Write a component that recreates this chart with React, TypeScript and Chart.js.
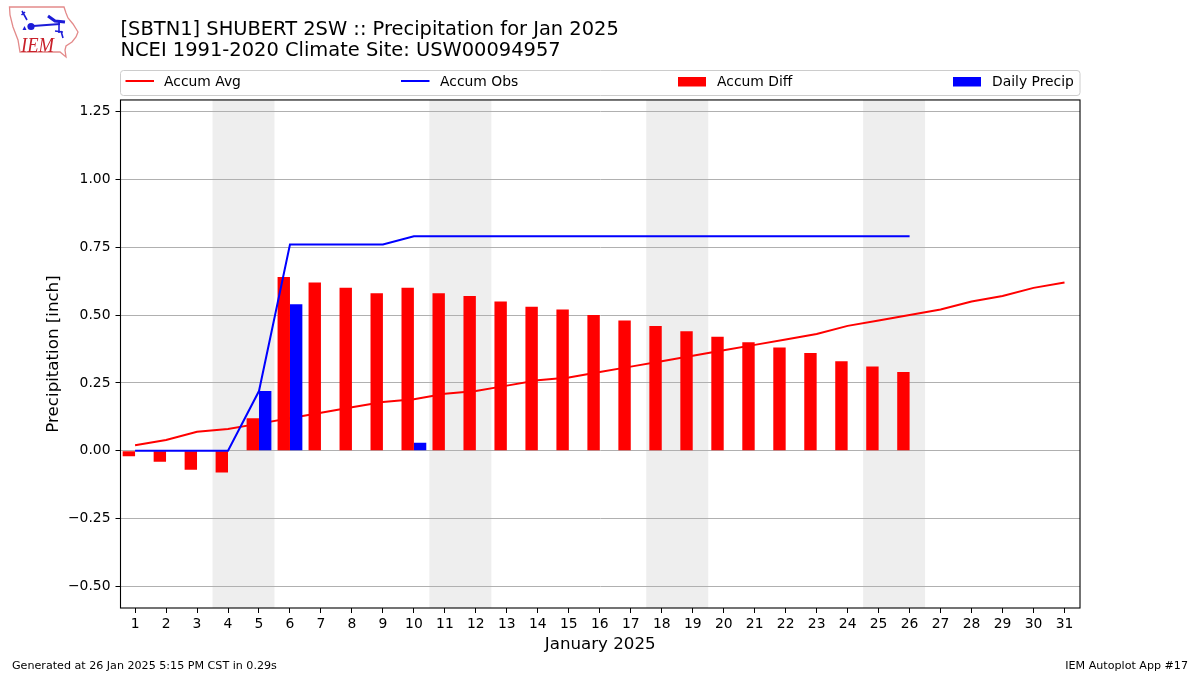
import React, { useEffect, useRef } from "react";
import { Chart, registerables } from "chart.js";

Chart.register(...registerables);

const titleLines = [
  "[SBTN1] SHUBERT 2SW :: Precipitation for Jan 2025",
  "NCEI 1991-2020 Climate Site: USW00094957",
];
const days = Array.from({ length: 31 }, (_, i) => i + 1);
const accumAvg = [0.02, 0.04, 0.07, 0.08, 0.1, 0.12, 0.14, 0.16, 0.18, 0.19, 0.21, 0.22, 0.24, 0.26, 0.27, 0.29, 0.31, 0.33, 0.35, 0.37, 0.39, 0.41, 0.43, 0.46, 0.48, 0.5, 0.52, 0.55, 0.57, 0.6, 0.62];
const accumObs = [0, 0, 0, 0, 0.22, 0.76, 0.76, 0.76, 0.76, 0.79, 0.79, 0.79, 0.79, 0.79, 0.79, 0.79, 0.79, 0.79, 0.79, 0.79, 0.79, 0.79, 0.79, 0.79, 0.79, 0.79];
const accumDiff = [-0.02, -0.04, -0.07, -0.08, 0.12, 0.64, 0.62, 0.6, 0.58, 0.6, 0.58, 0.57, 0.55, 0.53, 0.52, 0.5, 0.48, 0.46, 0.44, 0.42, 0.4, 0.38, 0.36, 0.33, 0.31, 0.29];
const dailyPrecip = [0, 0, 0, 0, 0.22, 0.54, 0, 0, 0, 0.03, 0, 0, 0, 0, 0, 0, 0, 0, 0, 0, 0, 0, 0, 0, 0, 0];
const yTicks = [-0.5, -0.25, 0, 0.25, 0.5, 0.75, 1, 1.25];
const weekendBands = [[3.5, 5.5], [10.5, 12.5], [17.5, 19.5], [24.5, 26.5]];
const footerLeft = "Generated at 26 Jan 2025 5:15 PM CST in 0.29s";
const footerRight = "IEM Autoplot App #17";

const FONT = "'DejaVu Sans'";
const toXY = (vals: number[]) => vals.map((y, i) => ({ x: days[i], y }));

const decor = {
  id: "decor",
  beforeDraw(chart: any) {
    const { ctx, chartArea: a, scales } = chart;
    ctx.save();
    ctx.fillStyle = "#eeeeee";
    for (const [s, e] of weekendBands) {
      const x0 = scales.x.getPixelForValue(s);
      const x1 = scales.x.getPixelForValue(e);
      ctx.fillRect(x0, a.top, x1 - x0, a.bottom - a.top);
    }
    ctx.restore();
  },
  afterDraw(chart: any) {
    const { ctx, chartArea: a } = chart;
    ctx.save();
    ctx.strokeStyle = "#000";
    ctx.lineWidth = 1.1;
    ctx.strokeRect(a.left, a.top, a.right - a.left, a.bottom - a.top);

    // legend
    ctx.strokeStyle = "#cccccc";
    ctx.lineWidth = 1;
    ctx.beginPath();
    ctx.roundRect(120.5, 70.5, 959.5, 25, 3);
    ctx.stroke();
    const items = [
      { i: 0, x: 125.5, tx: 164 },
      { i: 1, x: 401, tx: 440 },
      { i: 2, x: 678, tx: 717 },
      { i: 3, x: 953, tx: 992 },
    ];
    ctx.font = `13.89px ${FONT}`;
    ctx.textBaseline = "middle";
    ctx.textAlign = "left";
    for (const it of items) {
      const ds = chart.data.datasets[it.i];
      if (ds.type === "line") {
        ctx.strokeStyle = ds.borderColor;
        ctx.lineWidth = 2;
        ctx.beginPath();
        ctx.moveTo(it.x, 81);
        ctx.lineTo(it.x + 28.5, 81);
        ctx.stroke();
      } else {
        ctx.fillStyle = ds.backgroundColor;
        ctx.fillRect(it.x, 77, 28, 9.5);
      }
      ctx.fillStyle = "#000";
      ctx.fillText(ds.label, it.tx, 82);
    }

    // footer
    ctx.font = `11.11px ${FONT}`;
    ctx.fillStyle = "#000";
    ctx.textAlign = "left";
    ctx.fillText(footerLeft, 12, 666);
    ctx.textAlign = "right";
    ctx.fillText(footerRight, 1188, 666);
    ctx.restore();
  },
};

function Logo() {
  return (
    <svg width={90} height={62} style={{ position: "absolute", left: 0, top: 0 }}>
      <path
        d="M9.5 7 L64 7 L66 13 L68 18 L73 24 L78 32 L76 37 L72 42 L66 46 L65 50 L66 57 L60 52 L20 52 L18 40 L13 27 L10 15 Z"
        fill="white"
        stroke="#e38a8a"
        strokeWidth={1.3}
      />
      <g stroke="#1c1cd8" fill="none" strokeWidth={1.6}>
        <path d="M22 11 L27 20 M21.5 15 L25 12" />
        <path d="M33 26 L60 24" strokeWidth={2.2} />
        <path d="M59 22 L59 33" />
        <path d="M48 16 L55 21 L65 22" strokeWidth={3} />
        <path d="M55 31 L63 32 M61 31 L63 38" />
      </g>
      <circle cx={31} cy={26.5} r={3.6} fill="#1c1cd8" />
      <path d="M24.5 26 L26.5 30 L22.5 30 Z" fill="#1c1cd8" />
      <text x={21} y={52} fontFamily="'Liberation Serif'" fontStyle="italic" fontSize={20} fill="#c8202a" textLength={33} lengthAdjust="spacingAndGlyphs">
        IEM
      </text>
    </svg>
  );
}

export default function App() {
  const ref = useRef<HTMLCanvasElement>(null);
  useEffect(() => {
    const chart = new Chart(ref.current!, {
      type: "bar",
      data: {
        datasets: [
          { type: "line", label: "Accum Avg", data: toXY(accumAvg), borderColor: "#ff0000", borderWidth: 2, pointRadius: 0, order: 4 },
          { type: "line", label: "Accum Obs", data: toXY(accumObs), borderColor: "#0000ff", borderWidth: 2, pointRadius: 0, order: 1 },
          { type: "bar", label: "Accum Diff", data: toXY(accumDiff), backgroundColor: "#ff0000", order: 2, categoryPercentage: 0.8, barPercentage: 1 },
          { type: "bar", label: "Daily Precip", data: toXY(dailyPrecip), backgroundColor: "#0000ff", order: 3, categoryPercentage: 0.8, barPercentage: 1 },
        ] as any,
      },
      options: {
        animation: false,
        responsive: false,
        layout: { padding: { left: 0, right: 120, top: 0, bottom: 0 } },
        plugins: {
          legend: { display: false },
          tooltip: { enabled: false },
          title: {
            display: true,
            text: titleLines,
            align: "start",
            fullSize: false,
            color: "#000",
            font: { family: FONT, size: 19.44, weight: "normal", lineHeight: 1.1 },
            padding: { top: 19, bottom: 38.2 },
          },
        },
        scales: {
          x: {
            type: "linear",
            offset: false,
            min: 0.53,
            max: 31.5,
            afterFit: (s: any) => { s.height = 67; },
            afterBuildTicks: (s: any) => { s.ticks = days.map((value) => ({ value })); },
            grid: { offset: false, drawOnChartArea: false, drawTicks: true, tickLength: 5, tickColor: "#000", tickWidth: 1 },
            border: { display: false },
            ticks: { color: "#000", font: { family: FONT, size: 13.89 }, maxRotation: 0, autoSkip: false, padding: 3, callback: (v: any) => String(v) },
            title: { display: true, text: "January 2025", color: "#000", font: { family: FONT, size: 16.67 }, padding: { top: 0, bottom: 20 } },
          },
          y: {
            min: -0.579,
            max: 1.292,
            afterFit: (s: any) => { s.width = 120.5; },
            afterBuildTicks: (s: any) => { s.ticks = yTicks.map((value) => ({ value })); },
            grid: { color: "#b0b0b0", lineWidth: 1, tickLength: 5, tickColor: "#000", tickWidth: 1 },
            border: { display: false },
            ticks: { color: "#000", font: { family: FONT, size: 13.89 }, padding: 5, callback: (v: any) => Number(v).toFixed(2).replace("-", "\u2212") },
            title: { display: true, text: "Precipitation [inch]", color: "#000", font: { family: FONT, size: 16.67 }, padding: { top: 44, bottom: 0 } },
          },
        },
      },
      plugins: [decor],
    } as any);
    return () => chart.destroy();
  }, []);
  return (
    <div style={{ position: "fixed", left: 0, top: 0, width: 1200, height: 675, background: "#fff" }}>
      <canvas ref={ref} width={1200} height={675} style={{ display: "block" }} />
      <Logo />
    </div>
  );
}
